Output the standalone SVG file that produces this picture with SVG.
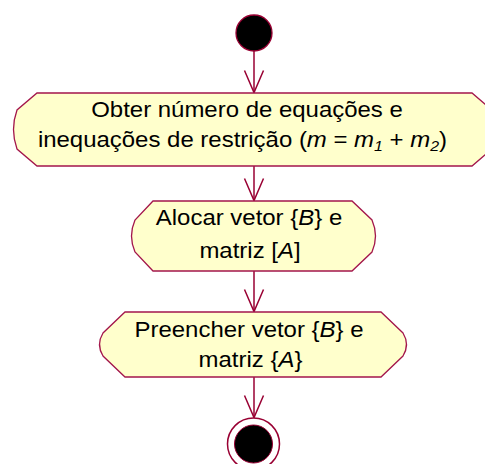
<svg xmlns="http://www.w3.org/2000/svg" width="485" height="464" viewBox="0 0 485 464">
<defs>
<style>
.node{fill:#FFFFCC;stroke:#A3164B;stroke-width:1.3}
.conn{fill:none;stroke:#990033;stroke-width:1.5}
.t{font-family:"Liberation Sans",Arial,sans-serif;font-size:22.5px;fill:#000;text-anchor:middle}
.i{font-style:italic}
.sub{font-style:italic;font-size:15px}
</style>
<marker id="arr" markerUnits="userSpaceOnUse" markerWidth="30" markerHeight="30" refX="0" refY="0" orient="auto" overflow="visible">
<path d="M-22,-9.5 L0,0 L-22,9.5" fill="none" stroke="#990033" stroke-width="1.5"/>
</marker>
</defs>
<rect width="485" height="464" fill="#fff"/>
<g id="connectors">
<line class="conn" x1="254" y1="51" x2="254" y2="92.5" marker-end="url(#arr)"/>
<line class="conn" x1="254" y1="166" x2="254" y2="200.5" marker-end="url(#arr)"/>
<line class="conn" x1="254" y1="271" x2="254" y2="311.5" marker-end="url(#arr)"/>
<line class="conn" x1="254" y1="377" x2="254" y2="417.5" marker-end="url(#arr)"/>
</g>
<g id="start">
<circle cx="254" cy="33" r="18" fill="#000" stroke="#990033" stroke-width="1.3"/>
</g>
<g id="node1">
<path class="node" d="M37,93 L472,93 L492,110 Q499,129.5 492,149 L472,166 L37,166 L17,149 Q10,129.5 17,110 Z"/>
<text class="t" transform="translate(247 116.5) scale(1.065 1)">Obter número de equações e</text>
<text class="t" transform="translate(242.5 146.5) scale(1.065 1)">inequações de restrição (<tspan class="i">m</tspan> = <tspan class="i">m</tspan><tspan class="sub" dy="4">1</tspan><tspan dy="-4"> + </tspan><tspan class="i">m</tspan><tspan class="sub" dy="4">2</tspan><tspan dy="-4">)</tspan></text>
</g>
<g id="node2">
<path class="node" d="M153,201 L352,201 L372,220 Q379,236 372,252 L352,271 L153,271 L135,252 Q128,236 135,220 Z"/>
<text class="t" transform="translate(249 225) scale(1.065 1)">Alocar vetor {<tspan class="i">B</tspan>} e</text>
<text class="t" transform="translate(250 258) scale(1.065 1)">matriz [<tspan class="i">A</tspan>]</text>
</g>
<g id="node3">
<path class="node" d="M125,312 L381,312 L403,333 Q410,344.5 403,356 L381,377 L125,377 L103,356 Q96,344.5 103,333 Z"/>
<text class="t" transform="translate(249 336.5) scale(1.065 1)">Preencher vetor {<tspan class="i">B</tspan>} e</text>
<text class="t" transform="translate(250.5 366.5) scale(1.065 1)">matriz {<tspan class="i">A</tspan>}</text>
</g>
<g id="end">
<circle cx="253.5" cy="444" r="26" fill="#fff" stroke="#990033" stroke-width="1.5"/>
<circle cx="253.5" cy="444" r="19" fill="#000" stroke="#990033" stroke-width="1"/>
</g>
</svg>
